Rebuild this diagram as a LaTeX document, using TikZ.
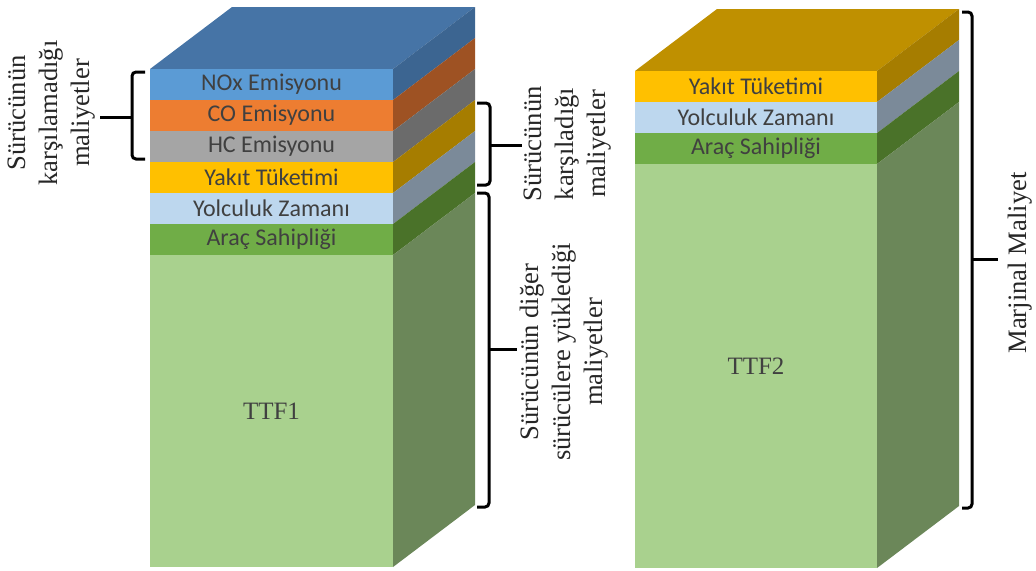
\documentclass[tikz,border=0pt]{standalone}
\usepackage{fontspec}
\setmainfont{Liberation Serif}
\newfontfamily\lblfont{Carlito}
\definecolor{noxF}{HTML}{5B9BD5}\definecolor{noxT}{HTML}{4674A6}\definecolor{noxS}{HTML}{3C6591}
\definecolor{coF}{HTML}{ED7D31}\definecolor{coS}{HTML}{9E5223}
\definecolor{hcF}{HTML}{A5A5A5}\definecolor{hcS}{HTML}{6B6B6B}
\definecolor{yakF}{HTML}{FFC000}\definecolor{yakS}{HTML}{A67D00}\definecolor{yakT}{HTML}{BF9000}
\definecolor{yolF}{HTML}{BDD7EE}\definecolor{yolS}{HTML}{7B8A99}
\definecolor{aracF}{HTML}{70AD47}\definecolor{aracS}{HTML}{4A7229}
\definecolor{ttfF}{HTML}{A9D18E}\definecolor{ttfS}{HTML}{6B8759}
\definecolor{txtgray}{HTML}{404040}
\begin{document}
\begin{tikzpicture}[x=.5pt,y=-.5pt,line width=.35pt,
  lay/.style={font=\lblfont\fontsize{12}{14}\selectfont,text=txtgray},
  ttf/.style={font=\fontsize{12.5}{15}\selectfont,text=txtgray},
  side/.style={rotate=90,align=center,font=\fontsize{13.3}{16}\selectfont,text=black!85},
  brc/.style={line width=1.5pt,rounded corners=2pt}]
\useasboundingbox (0,0) rectangle (1036,570);
% first block
\fill[noxT] (150,69)--(232,7)--(475,7)--(393,69)--cycle;
\fill[noxF] (150,69) rectangle (393,100);\fill[noxS] (393,69)--(475,7)--(475,38)--(393,100)--cycle;
\fill[coF] (150,100) rectangle (393,131);\fill[coS] (393,100)--(475,38)--(475,69)--(393,131)--cycle;
\fill[hcF] (150,131) rectangle (393,162);\fill[hcS] (393,131)--(475,69)--(475,100)--(393,162)--cycle;
\fill[yakF] (150,162) rectangle (393,193);\fill[yakS] (393,162)--(475,100)--(475,131)--(393,193)--cycle;
\fill[yolF] (150,193) rectangle (393,224);\fill[yolS] (393,193)--(475,131)--(475,162)--(393,224)--cycle;
\fill[aracF] (150,224) rectangle (393,255);\fill[aracS] (393,224)--(475,162)--(475,193)--(393,255)--cycle;
\fill[ttfF] (150,255) rectangle (393,567);\fill[ttfS] (393,255)--(475,193)--(475,505)--(393,567)--cycle;
\node[lay] (nox) at (271.5,84.5) {NOx Emisyonu};
\node[lay] (co) at (271.5,115.5) {CO Emisyonu};
\node[lay] (hc) at (271.5,146.5) {HC Emisyonu};
\node[lay] (yak1) at (271.5,177.5) {Yakıt Tüketimi};
\node[lay] (yol1) at (271.5,208.5) {Yolculuk Zamanı};
\node[lay] (arac1) at (271.5,239.5) {Araç Sahipliği};
\node[ttf] (ttf1) at (271.5,411) {TTF1};
% second block
\fill[yakT] (635,71)--(717,9)--(959,9)--(877,71)--cycle;
\fill[yakF] (635,71) rectangle (877,102);\fill[yakS] (877,71)--(959,9)--(959,40)--(877,102)--cycle;
\fill[yolF] (635,102) rectangle (877,133);\fill[yolS] (877,102)--(959,40)--(959,71)--(877,133)--cycle;
\fill[aracF] (635,133) rectangle (877,164);\fill[aracS] (877,133)--(959,71)--(959,102)--(877,164)--cycle;
\fill[ttfF] (635,164) rectangle (877,568);\fill[ttfS] (877,164)--(959,102)--(959,506)--(877,568)--cycle;
\node[lay] (yak2) at (756,86.5) {Yakıt Tüketimi};
\node[lay] (yol2) at (756,117.5) {Yolculuk Zamanı};
\node[lay] (arac2) at (756,148.5) {Araç Sahipliği};
\node[ttf] (ttf2) at (756,366) {TTF2};
% braces
\node[side] (lab1) at (52,113) {Sürücünün\\karşılamadığı\\maliyetler};
\node[side] (lab2) at (568,144) {Sürücünün\\karşıladığı\\maliyetler};
\node[side] (lab3) at (564,352) {Sürücünün diğer\\sürücülere yüklediği\\maliyetler};
\node[side] (lab4) at (1020,263) {Marjinal Maliyet};
\coordinate (m1) at (132,117);\coordinate (t1) at (100,117);
\coordinate (m2) at (490,145);\coordinate (t2) at (522,145);
\coordinate (m3) at (489,349);\coordinate (t3) at (517,349);
\coordinate (m4) at (972,259);\coordinate (t4) at (998,259);
\draw[brc] (145,72)--(132,72)--(132,159)--(145,159);\draw[brc] (m1)--(t1);
\draw[brc] (477,103)--(490,103)--(490,185)--(477,185);\draw[brc] (m2)--(t2);
\draw[brc] (477,193)--(489,193)--(489,507)--(477,507);\draw[brc] (m3)--(t3);
\draw[brc] (962,12)--(972,12)--(972,508)--(962,508);\draw[brc] (m4)--(t4);
\end{tikzpicture}
\end{document}
